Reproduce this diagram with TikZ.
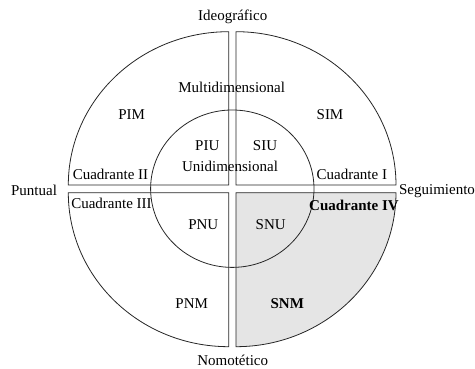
\documentclass[tikz,border=0pt]{standalone}
\usepackage{fontspec}
\setmainfont{Liberation Serif}
\tikzset{
  quad/.style={draw=black!85, line width=0.8pt},
  lbl/.style={anchor=base, inner sep=0pt, font=\fontsize{15}{18}\selectfont},
  blbl/.style={lbl, font=\fontsize{15}{18}\selectfont\bfseries}
}
\begin{document}
\begin{tikzpicture}[x=1pt,y=1pt]
\useasboundingbox (0,0) rectangle (475,369);
% quadrants
\coordinate (c1) at (236,184);
\coordinate (c2) at (228.7,184);
\coordinate (c3) at (228.7,176.3);
\coordinate (c4) at (236,176.3);
\fill[black!10] (c4) -- ++(160,0) arc[start angle=0, end angle=-90, x radius=160, y radius=154] -- cycle;
\draw[quad] (c1) -- ++(160,0) arc[start angle=0, end angle=90, x radius=160, y radius=153.3] -- cycle;
\draw[quad] (c2) -- ++(-160.4,0) arc[start angle=180, end angle=90, x radius=160.4, y radius=153.3] -- cycle;
\draw[quad] (c3) -- ++(-160.4,0) arc[start angle=180, end angle=270, x radius=160.4, y radius=154] -- cycle;
\draw[quad] (c4) -- ++(160,0) arc[start angle=0, end angle=-90, x radius=160, y radius=154] -- cycle;
% inner ellipse
\draw[quad] (232.3,180.3) ellipse[x radius=81.7, y radius=78.7];
% labels
\node[lbl] (ideo) at (232.7,348) {Ideográfico};
\node[lbl] (nomo) at (232.7,3.8) {Nomotético};
\node[lbl] (punt) at (34,173.3) {Puntual};
\node[lbl] (segu) at (437,174) {Seguimiento};
\node[lbl] (multi) at (231.7,276.7) {Multidimensional};
\node[lbl] (pim) at (131.7,249) {PIM};
\node[lbl] (sim) at (330,249) {SIM};
\node[lbl] (piu) at (207.3,218.3) {PIU};
\node[lbl] (siu) at (265,218.3) {SIU};
\node[lbl] (uni) at (230,197.3) {Unidimensional};
\node[lbl] (cii) at (110.5,189) {Cuadrante II};
\node[lbl] (ci) at (351.8,189) {Cuadrante I};
\node[lbl] (ciii) at (111.5,160) {Cuadrante III};
\node[blbl] (civ) at (354,158.3) {Cuadrante IV};
\node[lbl] (pnu) at (203.3,139) {PNU};
\node[lbl] (snu) at (270.7,139) {SNU};
\node[lbl] (pnm) at (191.7,60.7) {PNM};
\node[blbl] (snm) at (287.3,60.7) {SNM};
\end{tikzpicture}
\end{document}
